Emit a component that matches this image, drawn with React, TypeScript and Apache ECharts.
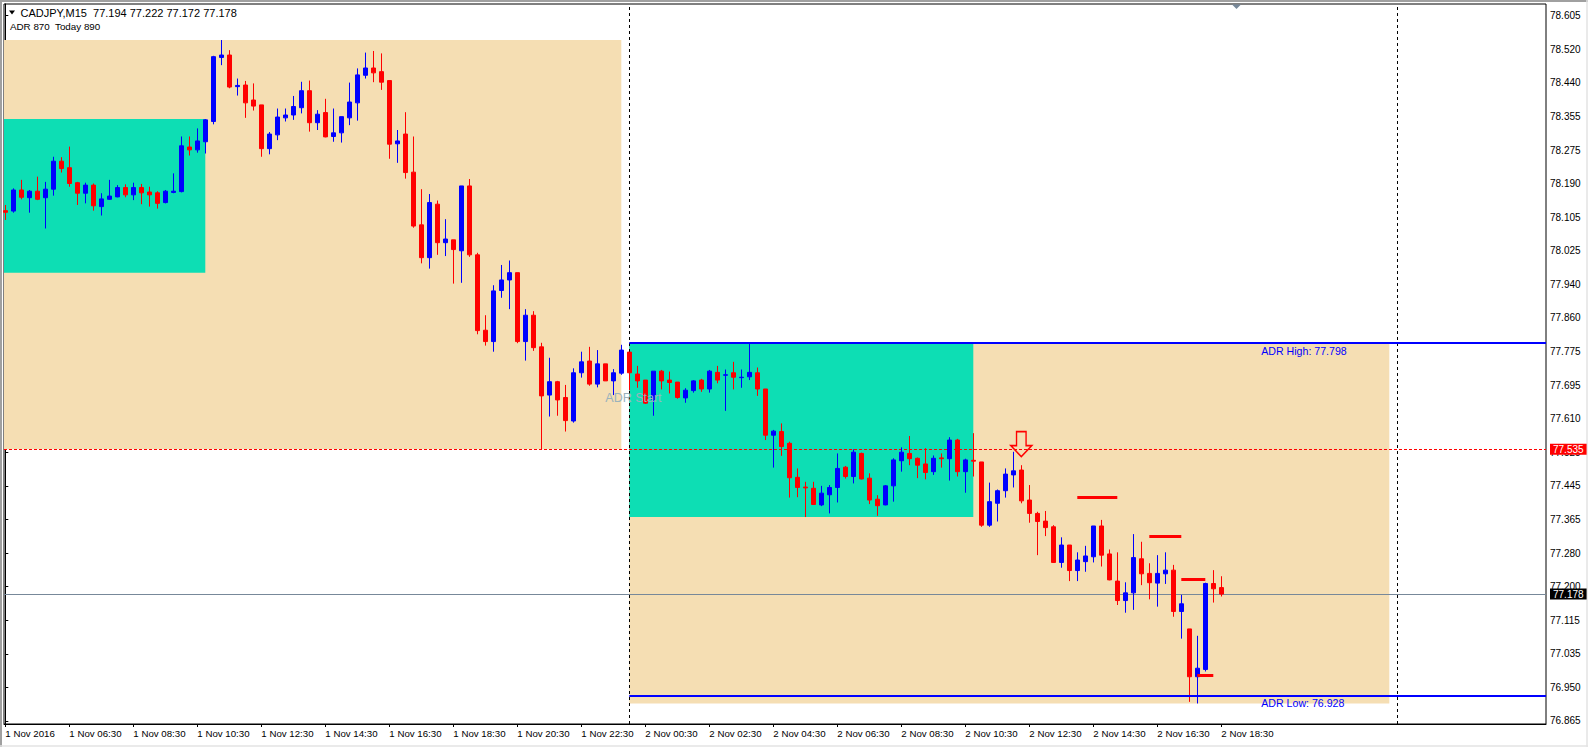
import React, { useEffect, useRef } from 'react';
import * as echarts from 'echarts';

const symbolName = 'CADJPY';
const timeframe = 'M15';

// x-axis labels, one every 8 bars (2 hours of M15 bars), first label at bar 0
const xTickLabels = [
  '1 Nov 2016', '1 Nov 06:30', '1 Nov 08:30', '1 Nov 10:30', '1 Nov 12:30', '1 Nov 14:30',
  '1 Nov 16:30', '1 Nov 18:30', '1 Nov 20:30', '1 Nov 22:30', '2 Nov 00:30', '2 Nov 02:30',
  '2 Nov 04:30', '2 Nov 06:30', '2 Nov 08:30', '2 Nov 10:30', '2 Nov 12:30', '2 Nov 14:30',
  '2 Nov 16:30', '2 Nov 18:30',
];
const barsPerLabel = 8;

// price-axis labels, bottom to top (evenly spaced in pixels, MT4-style rounding)
const yTickLabels = [
  '76.865', '76.950', '77.035', '77.115', '77.200', '77.280', '77.365', '77.445', '77.525', '77.610', '77.695',
  '77.775', '77.860', '77.940', '78.025', '78.105', '78.190', '78.275', '78.355', '78.440', '78.520', '78.605',
];

// OHLC of M15 bars, 1 Nov 04:30 .. 2 Nov 18:30
const opens = [
  78.124, 78.123, 78.175, 78.156, 78.172, 78.156, 78.177, 78.246, 78.230, 78.193,
  78.167, 78.187, 78.134, 78.152, 78.158, 78.181, 78.163, 78.181, 78.170, 78.168,
  78.144, 78.169, 78.171, 78.281, 78.274, 78.294, 78.344, 78.502, 78.508, 78.430,
  78.434, 78.397, 78.385, 78.277, 78.311, 78.353, 78.360, 78.378, 78.420, 78.341,
  78.366, 78.307, 78.316, 78.353, 78.390, 78.458, 78.476, 78.467, 78.445, 78.289,
  78.313, 78.219, 78.089, 78.008, 78.140, 78.045, 78.052, 78.025, 78.185, 78.015,
  77.829, 77.801, 77.927, 77.953, 77.971, 77.801, 77.866, 77.788, 77.669, 77.702,
  77.663, 77.605, 77.724, 77.753, 77.696, 77.746, 77.704, 77.723, 77.775, 77.721,
  77.706, 77.658, 77.728, 77.706, 77.701, 77.662, 77.680, 77.706, 77.684, 77.725,
  77.718, 77.724, 77.712, 77.714, 77.724, 77.684, 77.570, 77.579, 77.550, 77.466,
  77.442, 77.439, 77.398, 77.423, 77.441, 77.491, 77.468, 77.525, 77.464, 77.412,
  77.398, 77.445, 77.507, 77.525, 77.513, 77.499, 77.480, 77.514, 77.512, 77.558,
  77.480, 77.508, 77.504, 77.348, 77.402, 77.433, 77.472, 77.484, 77.410, 77.377,
  77.358, 77.344, 77.256, 77.299, 77.236, 77.258, 77.270, 77.346, 77.277, 77.210,
  77.162, 77.181, 77.265, 77.229, 77.205, 77.228, 77.237, 77.135, 77.092, 76.974,
  76.992, 77.204, 77.194,
];
const highs = [
  78.138, 78.179, 78.200, 78.175, 78.208, 78.195, 78.257, 78.256, 78.282, 78.195,
  78.193, 78.191, 78.167, 78.200, 78.187, 78.189, 78.193, 78.190, 78.183, 78.172,
  78.175, 78.216, 78.307, 78.307, 78.327, 78.350, 78.506, 78.545, 78.520, 78.450,
  78.444, 78.438, 78.385, 78.318, 78.376, 78.376, 78.407, 78.442, 78.445, 78.372,
  78.400, 78.376, 78.356, 78.440, 78.475, 78.514, 78.518, 78.512, 78.445, 78.323,
  78.367, 78.307, 78.177, 78.165, 78.149, 78.103, 78.052, 78.185, 78.202, 78.020,
  77.866, 77.940, 77.990, 78.001, 77.971, 77.881, 77.876, 77.798, 77.761, 77.704,
  77.694, 77.735, 77.776, 77.788, 77.780, 77.746, 77.733, 77.793, 77.775, 77.741,
  77.706, 77.728, 77.731, 77.727, 77.701, 77.686, 77.706, 77.709, 77.731, 77.741,
  77.732, 77.751, 77.732, 77.798, 77.737, 77.684, 77.583, 77.599, 77.554, 77.488,
  77.455, 77.455, 77.445, 77.447, 77.525, 77.494, 77.535, 77.527, 77.476, 77.422,
  77.447, 77.513, 77.540, 77.568, 77.515, 77.538, 77.520, 77.525, 77.565, 77.561,
  77.512, 77.575, 77.504, 77.453, 77.436, 77.488, 77.529, 77.496, 77.447, 77.381,
  77.383, 77.348, 77.318, 77.299, 77.281, 77.297, 77.346, 77.361, 77.288, 77.281,
  77.207, 77.326, 77.307, 77.254, 77.274, 77.281, 77.250, 77.176, 77.092, 77.075,
  77.206, 77.237, 77.222,
];
const lows = [
  78.101, 78.119, 78.152, 78.119, 78.150, 78.080, 78.161, 78.218, 78.183, 78.138,
  78.142, 78.124, 78.112, 78.151, 78.157, 78.157, 78.150, 78.140, 78.134, 78.129,
  78.142, 78.167, 78.169, 78.260, 78.267, 78.265, 78.337, 78.483, 78.426, 78.408,
  78.353, 78.371, 78.257, 78.263, 78.298, 78.344, 78.348, 78.364, 78.319, 78.323,
  78.305, 78.294, 78.292, 78.335, 78.346, 78.450, 78.441, 78.422, 78.252, 78.242,
  78.203, 78.082, 77.994, 77.981, 78.015, 78.012, 77.944, 77.946, 78.010, 77.819,
  77.791, 77.776, 77.909, 77.881, 77.797, 77.754, 77.778, 77.535, 77.616, 77.618,
  77.579, 77.601, 77.712, 77.692, 77.688, 77.704, 77.669, 77.719, 77.681, 77.687,
  77.647, 77.618, 77.683, 77.673, 77.660, 77.650, 77.675, 77.677, 77.675, 77.698,
  77.630, 77.683, 77.687, 77.706, 77.667, 77.558, 77.490, 77.519, 77.416, 77.417,
  77.368, 77.398, 77.395, 77.377, 77.404, 77.463, 77.451, 77.461, 77.400, 77.371,
  77.397, 77.406, 77.480, 77.496, 77.464, 77.461, 77.472, 77.490, 77.458, 77.468,
  77.428, 77.468, 77.344, 77.344, 77.357, 77.416, 77.441, 77.402, 77.354, 77.274,
  77.321, 77.255, 77.243, 77.210, 77.210, 77.233, 77.256, 77.246, 77.212, 77.151,
  77.132, 77.139, 77.200, 77.165, 77.147, 77.203, 77.122, 77.068, 76.912, 76.908,
  76.987, 77.157, 77.172,
];
const closes = [
  78.120, 78.175, 78.157, 78.172, 78.152, 78.177, 78.246, 78.228, 78.191, 78.167,
  78.187, 78.136, 78.153, 78.160, 78.181, 78.163, 78.181, 78.168, 78.163, 78.142,
  78.172, 78.172, 78.284, 78.274, 78.296, 78.348, 78.504, 78.508, 78.429, 78.433,
  78.390, 78.382, 78.277, 78.313, 78.355, 78.360, 78.381, 78.420, 78.341, 78.362,
  78.306, 78.316, 78.356, 78.392, 78.459, 78.476, 78.464, 78.441, 78.288, 78.296,
  78.218, 78.086, 78.008, 78.144, 78.045, 78.054, 78.028, 78.185, 78.015, 77.828,
  77.801, 77.926, 77.953, 77.971, 77.801, 77.866, 77.786, 77.667, 77.702, 77.657,
  77.606, 77.724, 77.751, 77.696, 77.746, 77.704, 77.724, 77.780, 77.724, 77.704,
  77.649, 77.728, 77.704, 77.700, 77.663, 77.681, 77.704, 77.684, 77.728, 77.706,
  77.719, 77.713, 77.713, 77.725, 77.684, 77.570, 77.580, 77.542, 77.465, 77.441,
  77.440, 77.399, 77.427, 77.441, 77.488, 77.468, 77.528, 77.462, 77.410, 77.396,
  77.445, 77.509, 77.528, 77.512, 77.496, 77.478, 77.513, 77.512, 77.558, 77.480,
  77.509, 77.506, 77.348, 77.406, 77.433, 77.474, 77.482, 77.408, 77.377, 77.357,
  77.342, 77.256, 77.299, 77.236, 77.262, 77.272, 77.346, 77.274, 77.213, 77.162,
  77.181, 77.268, 77.228, 77.206, 77.229, 77.237, 77.135, 77.154, 76.974, 76.995,
  77.204, 77.191, 77.178,
];

// levels
const prevDayHigh = 78.545;
const prevDayLow = 77.535;
const prevSessionHigh = 78.350;
const prevSessionLow = 77.971;
const sessionHigh = 77.798;
const sessionLow = 77.368;
const todayHigh = 77.798;
const todayLow = 76.908;
const adrHigh = 77.798;
const adrLow = 76.928;
const bidPrice = 77.178;

// bar indices of events
const prevSessionEndBar = 25;
const prevDayEndBar = 77;
const dayStartBar = 78;
const sessionEndBar = 121;
const dayEndBar = 173;
const nextDayBar = 174;
const adrLabelBar = 157;
const adrStartBar = 75;
const adrStartPrice = 77.662;
const arrowBar = 127;
const arrowPrice = 77.548;

const levelSegments = [
  { from: 134, to: 139, price: 77.417 },
  { from: 143, to: 147, price: 77.321 },
  { from: 147, to: 150, price: 77.214 },
  { from: 149, to: 151, price: 76.978 },
];

const FONT = "'Liberation Sans', Arial, sans-serif";

export default function App() {
  const ref = useRef<HTMLDivElement>(null);
  useEffect(() => {
    document.body.style.margin = '0';
    const chart = echarts.init(ref.current as HTMLDivElement, null, { renderer: 'svg' });

    const xMin = -0.1625;
    const xMax = 192.5875;
    const yMin = 76.8574;
    const yMax = 78.6339;

    const candles = opens.map((o, i) => [i, o, closes[i], lows[i], highs[i]]);
    const xTickValues = xTickLabels.map((_, k) => k * barsPerLabel);
    const y0 = parseFloat(yTickLabels[0]);
    const y1 = parseFloat(yTickLabels[yTickLabels.length - 1]);
    const yStep = (y1 - y0) / (yTickLabels.length - 1);
    const yTickValues = yTickLabels.map((_, k) => y0 + k * yStep);

    const last = opens.length - 1;
    const title1 = `${symbolName},${timeframe}\u00a0 ${opens[last].toFixed(3)} ${highs[last].toFixed(3)} ${lows[last].toFixed(3)} ${closes[last].toFixed(3)}`;
    const title2 = `ADR ${Math.round((adrHigh - adrLow) * 1000)}\u00a0 Today ${Math.round((todayHigh - todayLow) * 1000)}`;

    const tagLabel = (text: string, bg: string) => ({
      show: true,
      position: 'end',
      formatter: text,
      color: '#ffffff',
      backgroundColor: bg,
      padding: [1, 3, 0, 3],
      fontSize: 10,
      fontFamily: FONT,
      distance: 4,
    });

    const option: any = {
      animation: false,
      backgroundColor: '#ffffff',
      grid: {
        left: 4, top: 4, right: 42, bottom: 23,
        show: true, borderColor: '#000000', borderWidth: 1, backgroundColor: '#ffffff',
      },
      xAxis: {
        type: 'value', min: xMin, max: xMax,
        axisLine: { show: true, lineStyle: { color: '#000000', width: 1 } },
        axisTick: { show: true, customValues: xTickValues, length: 3, lineStyle: { color: '#000000' } },
        axisLabel: {
          show: true, customValues: xTickValues,
          formatter: (v: number) => xTickLabels[Math.round(v / barsPerLabel)] ?? '',
          align: 'left', margin: 4, fontSize: 9.7, color: '#000000', fontFamily: FONT,
        },
        splitLine: { show: false },
      },
      yAxis: {
        type: 'value', position: 'right', min: yMin, max: yMax,
        axisLine: { show: true, lineStyle: { color: '#000000', width: 1 } },
        axisTick: { show: true, customValues: yTickValues, length: 3, lineStyle: { color: '#000000' } },
        axisLabel: {
          show: true, customValues: yTickValues,
          formatter: (v: number) => yTickLabels[Math.round((v - y0) / yStep)] ?? '',
          align: 'left', margin: 4, fontSize: 10, color: '#000000', fontFamily: FONT,
        },
        splitLine: { show: false },
      },
      graphic: [
        { type: 'line', shape: { x1: 0, y1: 1, x2: 1588, y2: 1 }, style: { stroke: '#a0a0a0', lineWidth: 2 } },
        { type: 'line', shape: { x1: 1, y1: 0, x2: 1, y2: 747 }, style: { stroke: '#a0a0a0', lineWidth: 2 } },
        { type: 'line', shape: { x1: 1587, y1: 0, x2: 1587, y2: 747 }, style: { stroke: '#e3e3e3', lineWidth: 1.5 } },
        { type: 'line', shape: { x1: 0, y1: 746, x2: 1588, y2: 746 }, style: { stroke: '#e3e3e3', lineWidth: 1.5 } },
        { type: 'polygon', shape: { points: [[9, 10.5], [15, 10.5], [12, 14.5]] }, style: { fill: '#000000' } },
        { type: 'text', x: 20.5, y: 13, style: { text: title1, fill: '#000000', font: `11px ${FONT}`, verticalAlign: 'middle', align: 'left' } },
        { type: 'text', x: 10, y: 26, style: { text: title2, fill: '#000000', font: `9.8px ${FONT}`, verticalAlign: 'middle', align: 'left' } },
        { type: 'polygon', shape: { points: [[1232, 4.5], [1241, 4.5], [1236.5, 9]] }, style: { fill: '#778899' } },
      ],
      series: [
        {
          type: 'candlestick',
          name: symbolName,
          data: candles,
          barWidth: 4,
          z: 2,
          silent: true,
          itemStyle: {
            color: '#0000ff', color0: '#ff0000',
            borderColor: '#0000ff', borderColor0: '#ff0000', borderWidth: 1,
          },
          markArea: {
            silent: true,
            z: 1,
            label: { show: false },
            data: [
              [{ coord: [xMin, prevDayHigh], itemStyle: { color: '#f5deb3' } }, { coord: [prevDayEndBar, prevDayLow] }],
              [{ coord: [dayStartBar, todayHigh], itemStyle: { color: '#f5deb3' } }, { coord: [dayEndBar, todayLow] }],
              [{ coord: [xMin, prevSessionHigh], itemStyle: { color: '#0ddeb4' } }, { coord: [prevSessionEndBar, prevSessionLow] }],
              [{ coord: [dayStartBar, sessionHigh], itemStyle: { color: '#0ddeb4' } }, { coord: [sessionEndBar, sessionLow] }],
            ],
          },
          markLine: {
            silent: true,
            z: 1.5,
            symbol: ['none', 'none'],
            label: { show: false },
            data: [
              { xAxis: dayStartBar, lineStyle: { color: '#000000', type: [3, 3], width: 1 } },
              { xAxis: nextDayBar, lineStyle: { color: '#000000', type: [3, 3], width: 1 } },
              [
                { coord: [xMin, prevDayLow], lineStyle: { color: '#ff0000', type: [3, 2], width: 1 }, label: tagLabel(prevDayLow.toFixed(3), '#ff0000') },
                { coord: [xMax, prevDayLow] },
              ],
              [
                { coord: [xMin, bidPrice], lineStyle: { color: '#778899', type: 'solid', width: 1 }, label: tagLabel(bidPrice.toFixed(3), '#000000') },
                { coord: [xMax, bidPrice] },
              ],
            ],
          },
        },
        {
          type: 'line',
          name: 'objects',
          data: [],
          z: 5,
          silent: true,
          markLine: {
            silent: true,
            z: 5,
            symbol: ['none', 'none'],
            label: { show: false },
            data: [
              [{ coord: [dayStartBar, adrHigh], lineStyle: { color: '#0000ff', type: 'solid', width: 2 } }, { coord: [xMax, adrHigh] }],
              [{ coord: [dayStartBar, adrLow], lineStyle: { color: '#0000ff', type: 'solid', width: 2 } }, { coord: [xMax, adrLow] }],
              ...levelSegments.map((s) => [
                { coord: [s.from, s.price], lineStyle: { color: '#ff0000', type: 'solid', width: 3 } },
                { coord: [s.to, s.price] },
              ]),
            ],
          },
          markPoint: {
            silent: true,
            z: 6,
            data: [
              {
                coord: [arrowBar, arrowPrice],
                symbol: 'path://M6,0 L16,0 L16,14 L22,14 L11,25 L0,14 L6,14 Z',
                symbolSize: [21, 25],
                itemStyle: { color: 'rgba(255,255,255,0)', borderColor: '#ff0000', borderWidth: 1.5 },
                label: { show: false },
              },
              {
                coord: [adrStartBar, adrStartPrice],
                symbol: 'circle', symbolSize: 0,
                label: {
                  show: true, position: 'right', distance: 0, formatter: 'ADR Start',
                  color: '#9ab2bc', fontSize: 12.5, fontFamily: "'Liberation Sans Narrow', 'Liberation Sans', sans-serif",
                },
              },
              {
                coord: [adrLabelBar, adrHigh],
                symbol: 'circle', symbolSize: 0,
                label: {
                  show: true, position: 'right', distance: 0, offset: [0, 8], formatter: `ADR High: ${adrHigh.toFixed(3)}`,
                  color: '#0000ff', fontSize: 10.6, fontFamily: FONT,
                },
              },
              {
                coord: [adrLabelBar, adrLow],
                symbol: 'circle', symbolSize: 0,
                label: {
                  show: true, position: 'right', distance: 0, offset: [0, 8], formatter: `ADR Low: ${adrLow.toFixed(3)}`,
                  color: '#0000ff', fontSize: 10.6, fontFamily: FONT,
                },
              },
            ],
          },
        },
      ],
    };

    chart.setOption(option);
    return () => chart.dispose();
  }, []);

  return <div ref={ref} style={{ width: 1588, height: 747 }} />;
}
